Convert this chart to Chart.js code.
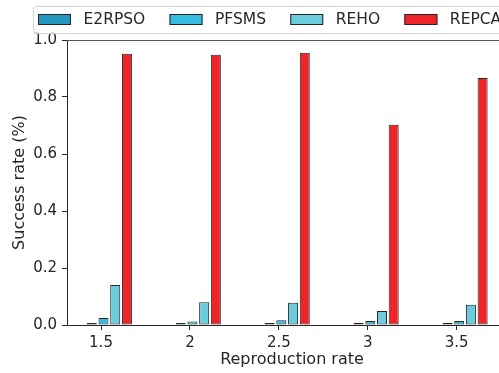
<!DOCTYPE html>
<html>
<head>
<meta charset="utf-8">
<script src="https://cdn.jsdelivr.net/npm/chart.js@4"></script>
<style>
  html, body { margin: 0; padding: 0; background: #fff; overflow: hidden; }
  #wrap { width: 530px; height: 373px; }
</style>
</head>
<body>
<div id="wrap"><canvas id="c" width="530" height="373"></canvas></div>
<script>
// ---- data ----
const RATES = [1.5, 2, 2.5, 3, 3.5];
const TICK_LABELS = ['1.5', '2', '2.5', '3', '3.5'];
const SERIES_NAMES = ['E2RPSO', 'PFSMS', 'REHO', 'REPCA'];
const E2RPSO = [0.002, 0.002, 0.002, 0.002, 0.002];
const PFSMS  = [0.025, 0.012, 0.017, 0.014, 0.014];
const REHO   = [0.140, 0.080, 0.078, 0.049, 0.071];
const REPCA  = [0.952, 0.948, 0.955, 0.703, 0.867];
const Y_TICKS = [0, 0.2, 0.4, 0.6, 0.8, 1.0];

// ---- style ----
const COLORS = ['#2596be', '#34bde0', '#6ccbdc', '#ee2429'];
const EDGE = '#262626';
const TEXT = '#262626';
const FONT = '"DejaVu Sans", sans-serif';
const GROUP_SHIFT = 0.047; // group drawn slightly right of its tick (rate units)

const SERIES = [E2RPSO, PFSMS, REHO, REPCA];

const datasets = SERIES.map((vals, i) => ({
  label: SERIES_NAMES[i],
  data: vals.map((v, j) => ({ x: RATES[j] + GROUP_SHIFT, y: v })),
  backgroundColor: COLORS[i],
  borderColor: EDGE,
  borderWidth: 1,
  borderSkipped: false,
  minBarLength: 2,
  categoryPercentage: 0.5265,
  barPercentage: 0.855
}));

const legendBox = {
  id: 'legendBox',
  afterDraw(chart) {
    const ctx = chart.ctx;
    ctx.save();
    ctx.beginPath();
    ctx.roundRect(33.5, 6.5, 540, 27, 3);
    ctx.fillStyle = 'rgba(255,255,255,0.8)';
    ctx.fill();
    ctx.strokeStyle = '#d2d2d2';
    ctx.lineWidth = 1;
    ctx.stroke();
    ctx.font = '15.5px ' + FONT;
    ctx.textBaseline = 'middle';
    ctx.textAlign = 'left';
    let x = 38;
    chart.data.datasets.forEach(ds => {
      ctx.fillStyle = ds.backgroundColor;
      ctx.fillRect(x, 14, 33, 11);
      ctx.strokeStyle = ds.borderColor;
      ctx.strokeRect(x + 0.5, 14.5, 32, 10);
      ctx.fillStyle = TEXT;
      ctx.fillText(ds.label, x + 45.5, 20);
      x += 45.5 + ctx.measureText(ds.label).width + 24.2;
    });
    // top spine
    const a = chart.chartArea;
    ctx.beginPath();
    ctx.moveTo(a.left, a.top + 0.5);
    ctx.lineTo(a.right, a.top + 0.5);
    ctx.strokeStyle = '#555';
    ctx.stroke();
    ctx.restore();
  }
};

new Chart(document.getElementById('c'), {
  type: 'bar',
  data: { datasets },
  options: {
    responsive: false,
    animation: false,
    layout: { padding: { top: 40, right: 13, bottom: 0, left: 0 } },
    plugins: { legend: { display: false }, tooltip: { enabled: false } },
    scales: {
      x: {
        type: 'linear',
        min: 1.3088,
        max: 3.839,
        offset: false,
        afterBuildTicks: s => { s.ticks = RATES.map(v => ({ value: v })); },
        afterFit: s => { s.height = 48; },
        grid: { offset: false, drawOnChartArea: false, drawTicks: true, tickLength: 5, color: EDGE, tickWidth: 1 },
        border: { display: true, color: EDGE, width: 1 },
        ticks: {
          autoSkip: false,
          maxRotation: 0,
          padding: 4,
          color: TEXT,
          font: { family: FONT, size: 15 },
          callback: (v, i) => TICK_LABELS[i]
        },
        title: {
          display: true,
          text: 'Reproduction rate',
          color: TEXT,
          font: { family: FONT, size: 16 },
          padding: { top: 0, bottom: 4 }
        }
      },
      y: {
        min: 0,
        max: 1,
        afterBuildTicks: s => { s.ticks = Y_TICKS.map(v => ({ value: v })); },
        afterFit: s => { s.width = 67; },
        grid: { offset: false, drawOnChartArea: false, drawTicks: true, tickLength: 5, color: EDGE, tickWidth: 1 },
        border: { display: true, color: EDGE, width: 1 },
        ticks: {
          padding: 5,
          color: TEXT,
          font: { family: FONT, size: 15 },
          callback: v => v.toFixed(1)
        },
        title: {
          display: true,
          text: 'Success rate (%)',
          color: TEXT,
          font: { family: FONT, size: 16 },
          padding: { top: 10, bottom: 0 }
        }
      }
    }
  },
  plugins: [legendBox]
});
</script>
</body>
</html>
